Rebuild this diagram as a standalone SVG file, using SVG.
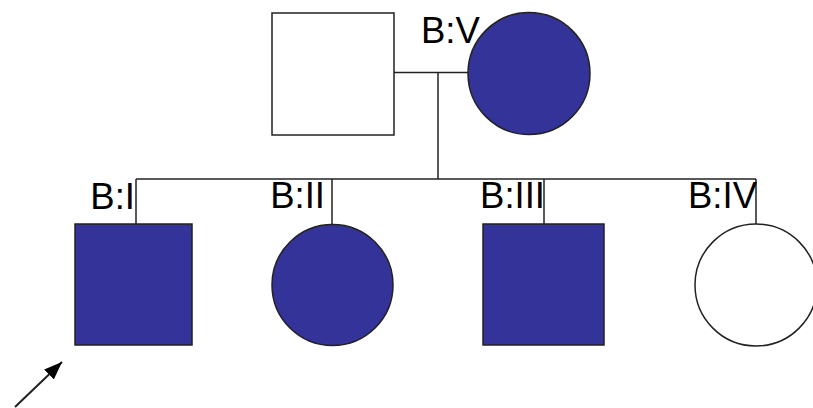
<svg xmlns="http://www.w3.org/2000/svg" width="813" height="408" viewBox="0 0 813 408">
<defs>
<style>
.shape{stroke:#222;stroke-width:1.5}
.aff{fill:#333399}
.un{fill:#fff}
.ln{stroke:#222;stroke-width:1.5;fill:none}
.lbl{font-family:"Liberation Sans",Arial,sans-serif;font-size:36.5px;fill:#000}
</style>
<marker id="ah2" viewBox="0 0 18 14" refX="18" refY="7" markerWidth="18" markerHeight="14" markerUnits="userSpaceOnUse" orient="auto">
<path d="M0,0 L18,7 L0,14 z" fill="#000"/>
</marker>
</defs>
<rect width="813" height="408" fill="#fff"/>
<g id="connectors">
<line class="ln" x1="394" y1="72.5" x2="468" y2="72.5"/>
<line class="ln" x1="438" y1="72.5" x2="438" y2="179"/>
<line class="ln" x1="136" y1="179" x2="756" y2="179"/>
<line class="ln" x1="136" y1="179" x2="136" y2="224"/>
<line class="ln" x1="332" y1="179" x2="332" y2="224"/>
<line class="ln" x1="544" y1="179" x2="544" y2="224"/>
<line class="ln" x1="756" y1="179" x2="756" y2="224"/>
<line x1="15" y1="407" x2="62" y2="362" stroke="#222" stroke-width="2" marker-end="url(#ah2)"/>
</g>
<g id="father">
<rect class="shape un" x="272" y="13" width="122" height="122"/>
</g>
<g id="mother">
<circle class="shape aff" cx="529" cy="73.5" r="61"/>
<text class="lbl" x="421" y="43">B:V</text>
</g>
<g id="BI">
<rect class="shape aff" x="75" y="224" width="117" height="121"/>
<text class="lbl" x="135" y="209" text-anchor="end">B:I</text>
</g>
<g id="BII">
<circle class="shape aff" cx="332.5" cy="285" r="60.5"/>
<text class="lbl" x="325" y="208" text-anchor="end">B:II</text>
</g>
<g id="BIII">
<rect class="shape aff" x="483" y="224" width="121" height="121"/>
<text class="lbl" x="545" y="208" text-anchor="end">B:III</text>
</g>
<g id="BIV">
<circle class="shape un" cx="756" cy="285" r="61"/>
<text class="lbl" x="757" y="208" text-anchor="end">B:IV</text>
</g>
</svg>
